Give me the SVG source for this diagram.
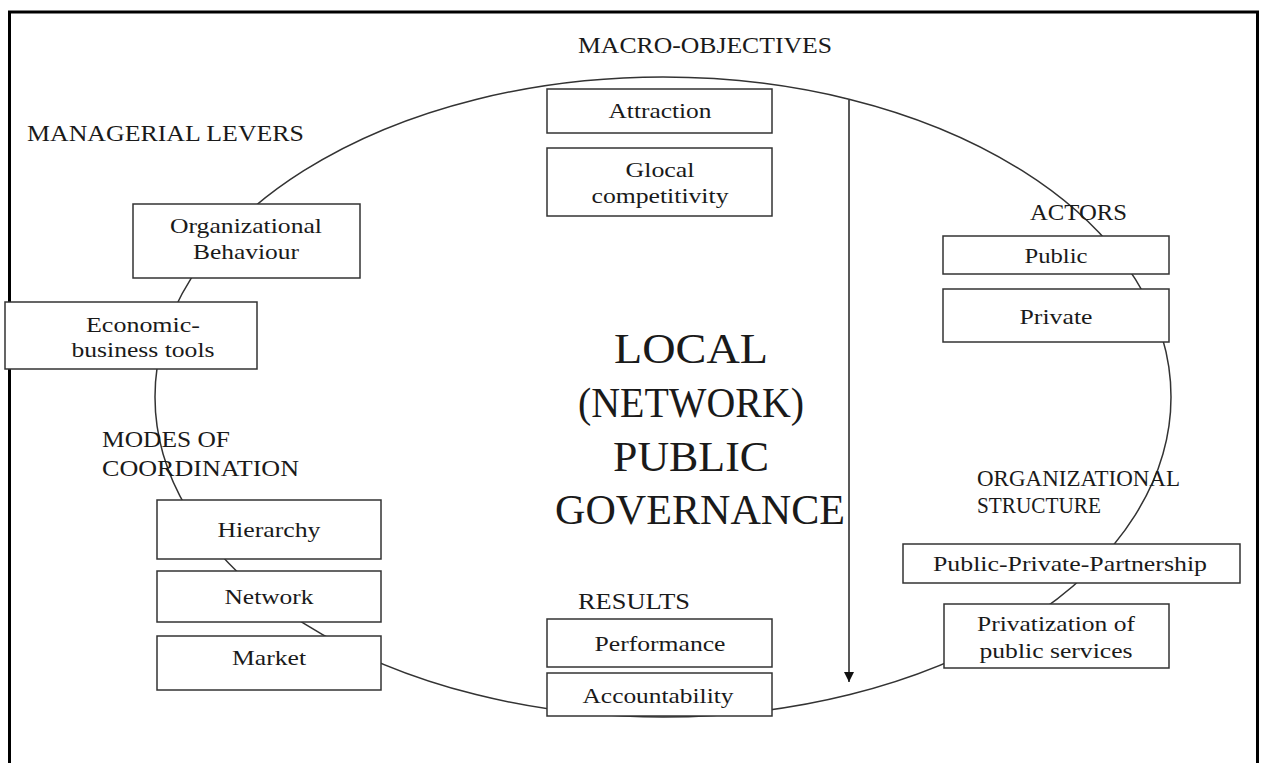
<svg xmlns="http://www.w3.org/2000/svg" width="1261" height="763" viewBox="0 0 1261 763">
<style>
text{font-family:"Liberation Serif","Times New Roman",serif;fill:#1a1a1a}
.lbl{font-size:23px}
.big{font-size:42px;text-anchor:middle}
.bt{font-size:22px;text-anchor:middle}
.box{fill:#fff;stroke:#333;stroke-width:1.5}
</style>
<defs>
<marker id="ah" viewBox="0 0 10 10" refX="10" refY="5" markerWidth="10" markerHeight="10" markerUnits="userSpaceOnUse" orient="auto">
<path d="M0,0 L10,5 L0,10 z" fill="#111"/>
</marker>
</defs>
<rect x="9.5" y="12" width="1248" height="800" fill="#fff" stroke="#000" stroke-width="3"/>
<g id="ellipse"><ellipse cx="663" cy="397" rx="508" ry="320" fill="none" stroke="#333" stroke-width="1.5"/></g>
<g id="connectors">
<line x1="849" y1="100" x2="849" y2="682" stroke="#222" stroke-width="1.5" marker-end="url(#ah)"/>
</g>
<g id="labels">
<text class="lbl" x="578" y="53" textLength="254" lengthAdjust="spacingAndGlyphs">MACRO-OBJECTIVES</text>
<text class="lbl" x="27" y="141" textLength="277" lengthAdjust="spacingAndGlyphs">MANAGERIAL LEVERS</text>
<text class="lbl" x="1030" y="220" textLength="97" lengthAdjust="spacingAndGlyphs">ACTORS</text>
<text class="lbl" x="102" y="447" textLength="128" lengthAdjust="spacingAndGlyphs">MODES OF</text>
<text class="lbl" x="102" y="476" textLength="197" lengthAdjust="spacingAndGlyphs">COORDINATION</text>
<text class="lbl" x="977" y="486" textLength="203" lengthAdjust="spacingAndGlyphs">ORGANIZATIONAL</text>
<text class="lbl" x="977" y="513" textLength="124" lengthAdjust="spacingAndGlyphs">STRUCTURE</text>
<text class="lbl" x="578" y="609" textLength="112" lengthAdjust="spacingAndGlyphs">RESULTS</text>
</g>
<g id="center-title">
<text class="big" x="691" y="363" textLength="154" lengthAdjust="spacingAndGlyphs">LOCAL</text>
<text class="big" x="691" y="417" textLength="226" lengthAdjust="spacingAndGlyphs">(NETWORK)</text>
<text class="big" x="691" y="471" textLength="156" lengthAdjust="spacingAndGlyphs">PUBLIC</text>
<text class="big" x="700" y="524" textLength="290" lengthAdjust="spacingAndGlyphs">GOVERNANCE</text>
</g>
<g id="attraction"><rect class="box" x="547" y="89" width="225" height="44"/><text class="bt" x="660" y="118" textLength="103" lengthAdjust="spacingAndGlyphs">Attraction</text></g>
<g id="glocal"><rect class="box" x="547" y="148" width="225" height="68"/><text class="bt" x="660" y="177" textLength="69" lengthAdjust="spacingAndGlyphs">Glocal</text><text class="bt" x="660" y="203" textLength="137" lengthAdjust="spacingAndGlyphs">competitivity</text></g>
<g id="org-behaviour"><rect class="box" x="133" y="204" width="227" height="74"/><text class="bt" x="246" y="233" textLength="152" lengthAdjust="spacingAndGlyphs">Organizational</text><text class="bt" x="246" y="259" textLength="106" lengthAdjust="spacingAndGlyphs">Behaviour</text></g>
<g id="economic"><rect class="box" x="5" y="302" width="252" height="67"/><text class="bt" x="143" y="332" textLength="114" lengthAdjust="spacingAndGlyphs">Economic-</text><text class="bt" x="143" y="357" textLength="143" lengthAdjust="spacingAndGlyphs">business tools</text></g>
<g id="public"><rect class="box" x="943" y="236" width="226" height="38"/><text class="bt" x="1056" y="263" textLength="63" lengthAdjust="spacingAndGlyphs">Public</text></g>
<g id="private"><rect class="box" x="943" y="289" width="226" height="53"/><text class="bt" x="1056" y="324" textLength="73" lengthAdjust="spacingAndGlyphs">Private</text></g>
<g id="hierarchy"><rect class="box" x="157" y="500" width="224" height="59"/><text class="bt" x="269" y="537" textLength="103" lengthAdjust="spacingAndGlyphs">Hierarchy</text></g>
<g id="network"><rect class="box" x="157" y="571" width="224" height="51"/><text class="bt" x="269" y="604" textLength="89" lengthAdjust="spacingAndGlyphs">Network</text></g>
<g id="market"><rect class="box" x="157" y="636" width="224" height="54"/><text class="bt" x="269" y="665" textLength="74" lengthAdjust="spacingAndGlyphs">Market</text></g>
<g id="performance"><rect class="box" x="547" y="619" width="225" height="48"/><text class="bt" x="660" y="651" textLength="131" lengthAdjust="spacingAndGlyphs">Performance</text></g>
<g id="accountability"><rect class="box" x="547" y="673" width="225" height="43"/><text class="bt" x="658" y="703" textLength="151" lengthAdjust="spacingAndGlyphs">Accountability</text></g>
<g id="ppp"><rect class="box" x="903" y="544" width="337" height="39"/><text class="bt" x="1070" y="571" textLength="274" lengthAdjust="spacingAndGlyphs">Public-Private-Partnership</text></g>
<g id="privatization"><rect class="box" x="944" y="604" width="225" height="64"/><text class="bt" x="1056" y="631" textLength="158" lengthAdjust="spacingAndGlyphs">Privatization of</text><text class="bt" x="1056" y="658" textLength="153" lengthAdjust="spacingAndGlyphs">public services</text></g>
</svg>
